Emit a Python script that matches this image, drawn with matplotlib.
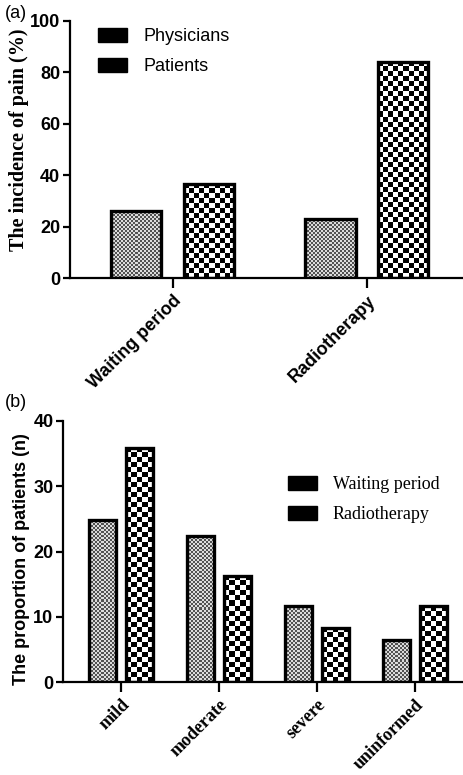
import numpy as np
import matplotlib
matplotlib.use("Agg")
import matplotlib.pyplot as plt
from matplotlib.patches import Patch

## datos panel (a)
cat_a = ["Waiting period", "Radiotherapy"]
physicians = [26.2, 23.2]
patients = [36.8, 84.2]

## datos panel (b)
cat_b = ["mild", "moderate", "severe", "uninformed"]
waiting = [24.8, 22.4, 11.6, 6.5]
radio = [35.8, 16.3, 8.3, 11.6]

SANS = "Liberation Sans"
SERIF = "Liberation Serif"

fig = plt.figure(figsize=(4.64, 7.75), dpi=100)
ax1 = fig.add_axes([0.151, 0.641, 0.849, 0.332])
ax2 = fig.add_axes([0.136, 0.1196, 0.864, 0.3375])


def textura(ax, barras, celda, c_osc, c_cla):
    # rellena cada barra con un patron de tablero (como en GraphPad)
    for b in barras:
        x0, y0 = b.get_x(), b.get_y()
        w, h = b.get_width(), b.get_height()
        p0 = ax.transData.transform((x0, y0))
        p1 = ax.transData.transform((x0 + w, y0 + h))
        nx = max(1, int(round((p1[0] - p0[0]) / celda)))
        ny = max(1, int(round((p1[1] - p0[1]) / celda)))
        chk = np.indices((ny, nx)).sum(axis=0) % 2
        img = np.where(chk[..., None] == 1, np.array(c_cla, dtype=float),
                       np.array(c_osc, dtype=float))
        ax.imshow(img, extent=(x0, x0 + w, y0, y0 + h), origin="lower",
                  aspect="auto", interpolation="nearest", zorder=1)


def estilo(ax, xlim, ylim, yticks):
    ax.set_xlim(*xlim)
    ax.set_ylim(*ylim)
    ax.set_yticks(yticks)
    for s in ["top", "right"]:
        ax.spines[s].set_visible(False)
    for s in ["left", "bottom"]:
        ax.spines[s].set_linewidth(1.6)
    ax.tick_params(axis="y", width=1.6, length=5, labelsize=13, pad=2)
    ax.tick_params(axis="x", width=1.6, length=7, pad=3)
    for t in ax.get_yticklabels():
        t.set_fontfamily(SANS)
        t.set_fontweight("bold")


# ---------------- panel (a)
xa = np.arange(len(cat_a))
w, d = 0.258, 0.188
ba1 = ax1.bar(xa - d, physicians, w, facecolor="none", edgecolor="black", linewidth=2.4, zorder=3)
ba2 = ax1.bar(xa + d, patients, w, facecolor="none", edgecolor="black", linewidth=2.4, zorder=3)
estilo(ax1, (-0.53, 1.5), (0, 100), [0, 20, 40, 60, 80, 100])
textura(ax1, ba1, 2.0, (0.32, 0.32, 0.32), (0.86, 0.86, 0.86))
textura(ax1, ba2, 5.0, (0, 0, 0), (1, 1, 1))
ax1.set_xlim(-0.53, 1.5)
ax1.set_ylim(0, 100)
ax1.set_xticks(xa)
ax1.set_xticklabels(cat_a, rotation=45, ha="right", rotation_mode="anchor",
                    fontfamily=SANS, fontweight="bold", fontsize=13)
ax1.set_ylabel("The incidence of pain (%)", fontfamily=SERIF, fontweight="bold", fontsize=14.5)
ax1.yaxis.set_label_coords(-0.105, 0.537)
hand_a = [Patch(facecolor="black", edgecolor="black", label="Physicians"),
          Patch(facecolor="black", edgecolor="black", label="Patients")]
ax1.legend(handles=hand_a, loc="upper left", bbox_to_anchor=(0.03, 1.035), frameon=False,
           prop={"family": SANS, "size": 13}, handlelength=1.6, handleheight=0.8,
           labelspacing=0.7, handletextpad=0.9)
fig.text(0.01, 0.982, "(a)", fontfamily=SANS, fontsize=13, va="center", ha="left")

# ---------------- panel (b)
xb = np.arange(len(cat_b))
w, d = 0.27, 0.19
bb1 = ax2.bar(xb - d, waiting, w, facecolor="none", edgecolor="black", linewidth=2.4, zorder=3)
bb2 = ax2.bar(xb + d, radio, w, facecolor="none", edgecolor="black", linewidth=2.4, zorder=3)
estilo(ax2, (-0.59, 3.5), (0, 40), [0, 10, 20, 30, 40])
textura(ax2, bb1, 2.0, (0.32, 0.32, 0.32), (0.86, 0.86, 0.86))
textura(ax2, bb2, 5.0, (0, 0, 0), (1, 1, 1))
ax2.set_xlim(-0.59, 3.5)
ax2.set_ylim(0, 40)
ax2.set_xticks(xb)
ax2.set_xticklabels(cat_b, rotation=45, ha="right", rotation_mode="anchor",
                    fontfamily=SERIF, fontweight="bold", fontsize=13)
ax2.set_ylabel("The proportion of patients (n)", fontfamily=SANS, fontweight="bold", fontsize=13)
ax2.yaxis.set_label_coords(-0.082, 0.471)
hand_b = [Patch(facecolor="black", edgecolor="black", label="Waiting period"),
          Patch(facecolor="black", edgecolor="black", label="Radiotherapy")]
ax2.legend(handles=hand_b, loc="upper left", bbox_to_anchor=(0.52, 0.85), frameon=False,
           prop={"family": SERIF, "size": 13}, handlelength=1.6, handleheight=0.8,
           labelspacing=0.7, handletextpad=0.9)
fig.text(0.01, 0.481, "(b)", fontfamily=SANS, fontsize=13, va="center", ha="left")

fig.savefig("out.png", dpi=100)
